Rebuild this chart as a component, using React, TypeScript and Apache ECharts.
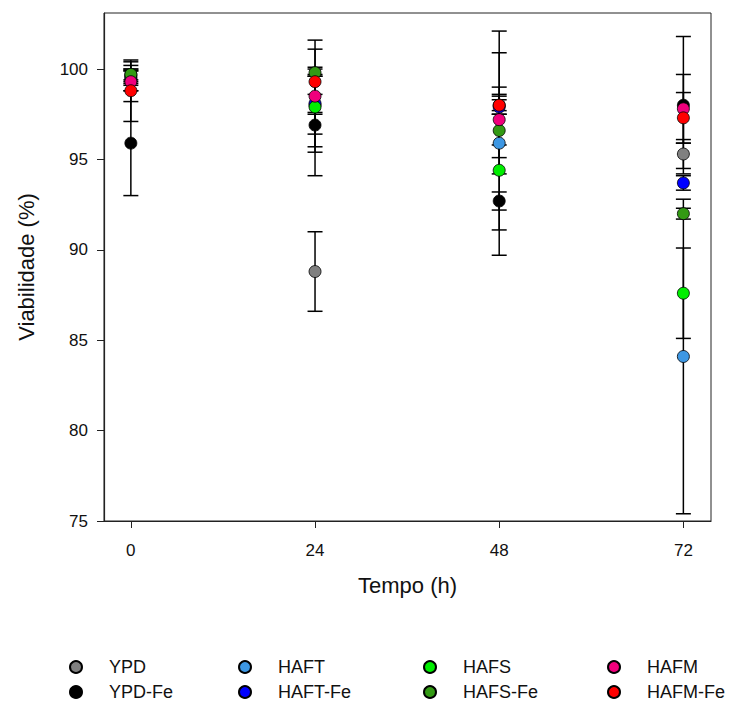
import React, { useEffect, useRef } from "react";
import * as echarts from "echarts";

const times = [0, 24, 48, 72];
const xTicks = [0, 24, 48, 72];
const yTicks = [75, 80, 85, 90, 95, 100];

const seriesNames = ["YPD", "YPD-Fe", "HAFT", "HAFT-Fe", "HAFS", "HAFS-Fe", "HAFM", "HAFM-Fe"];
const seriesColors = ["#808080", "#000000", "#3d97e3", "#0000ff", "#00ee00", "#339a14", "#f0007c", "#ff0000"];

const ypd = [99.4, 88.8, 98.0, 95.3];
const ypdErr = [0.6, 2.2, 0.5, 0.8];
const ypdFe = [95.9, 96.9, 92.7, 98.0];
const ypdFeErr = [2.9, 2.8, 0.5, 3.8];
const haft = [99.5, 98.0, 95.9, 84.1];
const haftErr = [0.4, 1.6, 6.2, 8.7];
const haftFe = [99.6, 98.1, 97.9, 93.7];
const haftFeErr = [0.3, 0.5, 0.4, 0.4];
const hafs = [99.7, 97.9, 94.4, 87.6];
const hafsErr = [0.5, 2.2, 3.3, 2.5];
const hafsFe = [99.7, 99.8, 96.6, 92.0];
const hafsFeErr = [0.3, 0.2, 2.4, 0.3];
const hafm = [99.3, 98.5, 97.2, 97.8];
const hafmErr = [1.1, 3.1, 1.4, 1.9];
const hafmFe = [98.8, 99.3, 98.0, 97.3];
const hafmFeErr = [1.7, 1.8, 2.9, 1.4];

const seriesValues = [ypd, ypdFe, haft, haftFe, hafs, hafsFe, hafm, hafmFe];
const seriesErrors = [ypdErr, ypdFeErr, haftErr, haftFeErr, hafsErr, hafsFeErr, hafmErr, hafmFeErr];

const legendColumns = [
  ["YPD", "YPD-Fe"],
  ["HAFT", "HAFT-Fe"],
  ["HAFS", "HAFS-Fe"],
  ["HAFM", "HAFM-Fe"],
];
const legendLefts = [69, 238, 423, 607];

const FONT = "'Liberation Sans', Arial, Helvetica, sans-serif";

export default function App() {
  const ref = useRef<HTMLDivElement>(null);

  useEffect(() => {
    document.body.style.margin = "0";
    if (!ref.current) return;
    const chart = echarts.init(ref.current, undefined, { renderer: "svg" });

    const errorSeries = seriesNames.map((name, si) => ({
      name: name + " err",
      type: "custom",
      z: 2,
      silent: true,
      data: times.map((t, i) => [t, seriesValues[si][i], seriesErrors[si][i]]),
      encode: { x: 0, y: 1 },
      renderItem: (params: any, api: any) => {
        const x = api.value(0);
        const y = api.value(1);
        const e = api.value(2);
        const top = api.coord([x, y + e]);
        const bot = api.coord([x, y - e]);
        const hw = 7.5;
        const style = { stroke: "#000", lineWidth: 1.5 };
        return {
          type: "group",
          children: [
            { type: "line", shape: { x1: top[0], y1: top[1], x2: bot[0], y2: bot[1] }, style },
            { type: "line", shape: { x1: top[0] - hw, y1: top[1], x2: top[0] + hw, y2: top[1] }, style },
            { type: "line", shape: { x1: bot[0] - hw, y1: bot[1], x2: bot[0] + hw, y2: bot[1] }, style },
          ],
        };
      },
    }));

    const pointSeries = seriesNames.map((name, si) => ({
      name,
      type: "scatter",
      z: 3,
      symbol: "circle",
      symbolSize: 12,
      itemStyle: { color: seriesColors[si], borderColor: "#000", borderWidth: 0.8, opacity: 1 },
      data: times.map((t, i) => [t, seriesValues[si][i]]),
    }));

    chart.setOption({
      animation: false,
      backgroundColor: "#ffffff",
      grid: {
        left: 104,
        right: 23,
        top: 13,
        bottom: 181,
        show: true,
        borderColor: "#222",
        borderWidth: 1,
      },
      xAxis: {
        type: "value",
        min: -3.5,
        max: 75.6,
        name: "Tempo (h)",
        nameLocation: "middle",
        nameGap: 53,
        nameTextStyle: { fontSize: 22, fontFamily: FONT, color: "#111" },
        axisLine: { show: true, onZero: false, lineStyle: { color: "#222", width: 1.2 } },
        axisTick: { show: true, inside: false, length: 7, customValues: xTicks, lineStyle: { color: "#222" } },
        axisLabel: { customValues: xTicks, fontSize: 17, fontFamily: FONT, color: "#111", margin: 21 },
        splitLine: { show: false },
      },
      yAxis: {
        type: "value",
        min: 75,
        max: 103.1,
        name: "Viabilidade (%)",
        nameLocation: "middle",
        nameGap: 67,
        nameTextStyle: { fontSize: 22, fontFamily: FONT, color: "#111" },
        axisLine: { show: true, onZero: false, lineStyle: { color: "#222", width: 1.2 } },
        axisTick: { show: true, inside: false, length: 7, customValues: yTicks, lineStyle: { color: "#222" } },
        axisLabel: { customValues: yTicks, fontSize: 17, fontFamily: FONT, color: "#111", margin: 16 },
        splitLine: { show: false },
      },
      legend: legendColumns.map((names, i) => ({
        data: names,
        orient: "vertical",
        left: legendLefts[i],
        top: 657,
        padding: 0,
        itemWidth: 12,
        itemHeight: 12,
        itemGap: 5,
        icon: "circle",
        selectedMode: false,
        textStyle: {
          fontSize: 18,
          fontFamily: FONT,
          color: "#111",
          padding: [0, 0, 0, 22],
          lineHeight: 20,
        },
      })),
      series: [...errorSeries, ...pointSeries],
    });

    return () => {
      chart.dispose();
    };
  }, []);

  return <div ref={ref} style={{ width: 734, height: 702 }} />;
}
